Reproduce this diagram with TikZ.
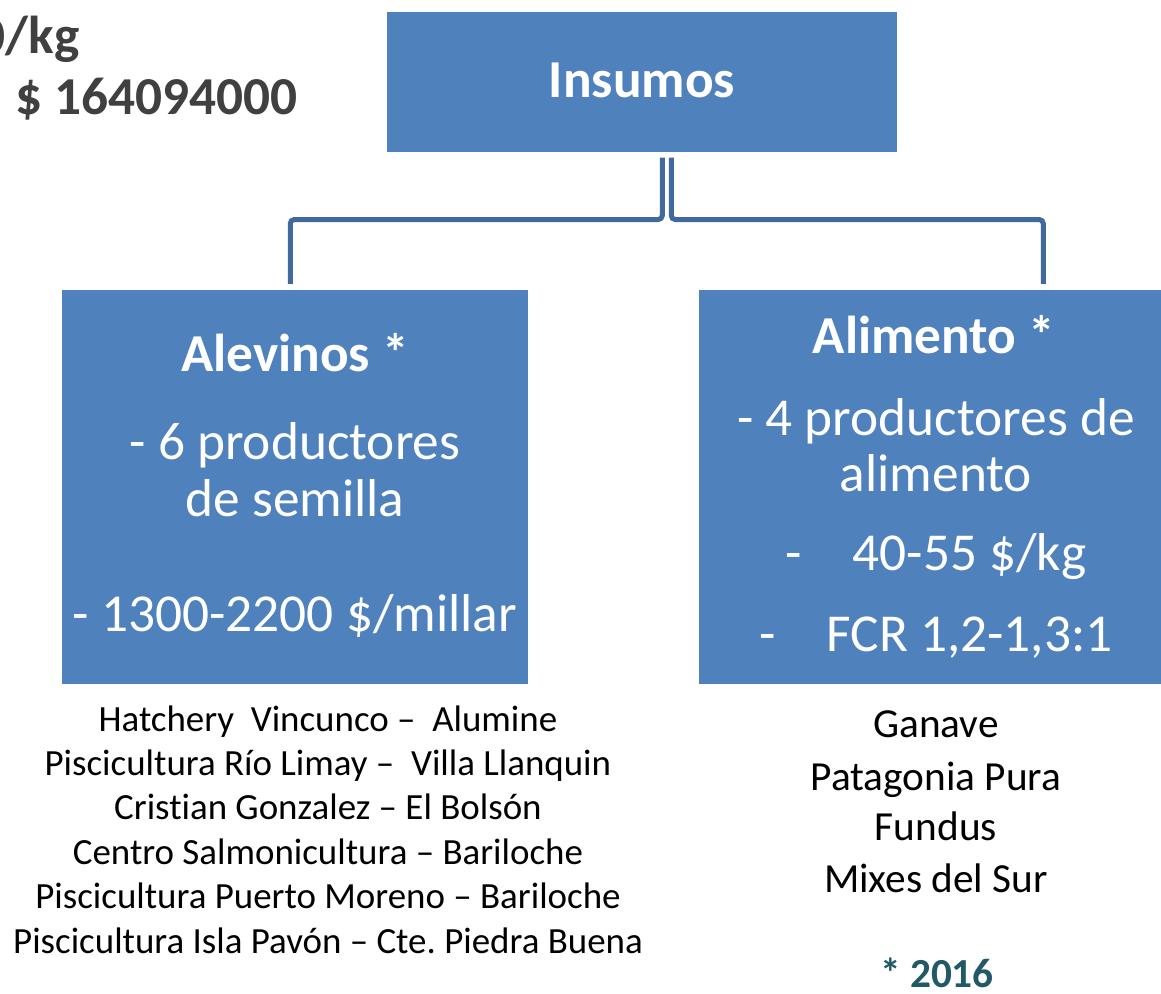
\documentclass[tikz,border=0pt]{standalone}
\usepackage{fontspec}
\setmainfont{Carlito}[Ligatures={TeX,NoCommon}]
\usetikzlibrary{calc}
\definecolor{boxblue}{HTML}{4F81BD}
\definecolor{connblue}{HTML}{41699C}
\definecolor{topgray}{HTML}{404040}
\definecolor{tealnote}{HTML}{215968}
\frenchspacing
\begin{document}
\begin{tikzpicture}[x=0.75pt,y=-0.75pt,
  box/.style={fill=boxblue, draw=none, inner sep=0pt, anchor=north west},
  intext/.style={text=white, anchor=base, inner sep=0pt, font=\fontsize{40}{48}\selectfont},
  inhead/.style={text=white, anchor=base, inner sep=0pt, font=\fontsize{40}{48}\selectfont\bfseries},
  conn/.style={draw=connblue, line width=3.75pt, rounded corners=3pt},
  leftlist/.style={anchor=base, inner sep=0pt, font=\fontsize{27.7}{33}\selectfont},
  rightlist/.style={anchor=base, inner sep=0pt, font=\fontsize{31}{37}\selectfont},
  note/.style={anchor=base, inner sep=0pt, text=tealnote, font=\fontsize{31}{37}\selectfont\bfseries},
  toptext/.style={anchor=base east, inner sep=0pt, text=topgray, font=\fontsize{40}{48}\selectfont\bfseries}
]
\useasboundingbox (0,0) rectangle (1161,994);

% boxes
\node[box, minimum width=382.5pt, minimum height=105pt] (ins) at (387,12) {};
\node[box, minimum width=349.5pt, minimum height=295.5pt] (alev) at (62,290) {};
\node[box, minimum width=346.5pt, minimum height=295.5pt] (alim) at (699,290) {};

% connectors
\draw[conn] ($(ins.south)+(20,5)$) -- ++(0,62) -| ($(alev.north)+(-5,-6)$);
\draw[conn] ($(ins.south)+(29,5)$) -- ++(0,62) -| ($(alim.north)+(113,-6)$);

% box texts
\node[inhead] (insT) at (642,98) {Insumos};

\node[inhead] (alevT) at (295,372) {Alevinos *};
\node[intext] (alev1) at (295,460) {- 6 productores};
\node[intext] (alev2) at (295,517) {de semilla};
\node[intext] (alev3) at (295,632) {- 1300-2200 \$/millar};

\node[inhead] (alimT) at (934,354) {Alimento *};
\node[intext] (alim1) at (936,436) {- 4 productores de};
\node[intext] (alim2) at (936,492) {alimento};
\node[intext] (alim3) at (936,571) {-\hspace{38pt}40-55 \$/kg};
\node[intext] (alim4) at (936,652) {-\hspace{38pt}FCR 1,2-1,3:1};

% lists below
\node[leftlist] (l1) at (328,731) {Hatchery~~Vincunco –~~Alumine};
\node[leftlist] (l2) at (328,775) {Piscicultura Río Limay –~~Villa Llanquin};
\node[leftlist] (l3) at (328,819) {Cristian Gonzalez – El Bolsón};
\node[leftlist] (l4) at (328,864) {Centro Salmonicultura – Bariloche};
\node[leftlist] (l5) at (328,908) {Piscicultura Puerto Moreno – Bariloche};
\node[leftlist] (l6) at (328,953) {Piscicultura Isla Pavón – Cte. Piedra Buena};

\node[rightlist] (r1) at (936,738) {Ganave};
\node[rightlist] (r2) at (936,790) {Patagonia Pura};
\node[rightlist] (r3) at (936,840) {Fundus};
\node[rightlist] (r4) at (936,892) {Mixes del Sur};
\node[note] (year) at (937,987) {* 2016};

% top-left partial text
\node[toptext] (price) at (80,54) {0/kg};
\node[toptext] (total) at (298,115) {: \$ 164094000};
\end{tikzpicture}
\end{document}
